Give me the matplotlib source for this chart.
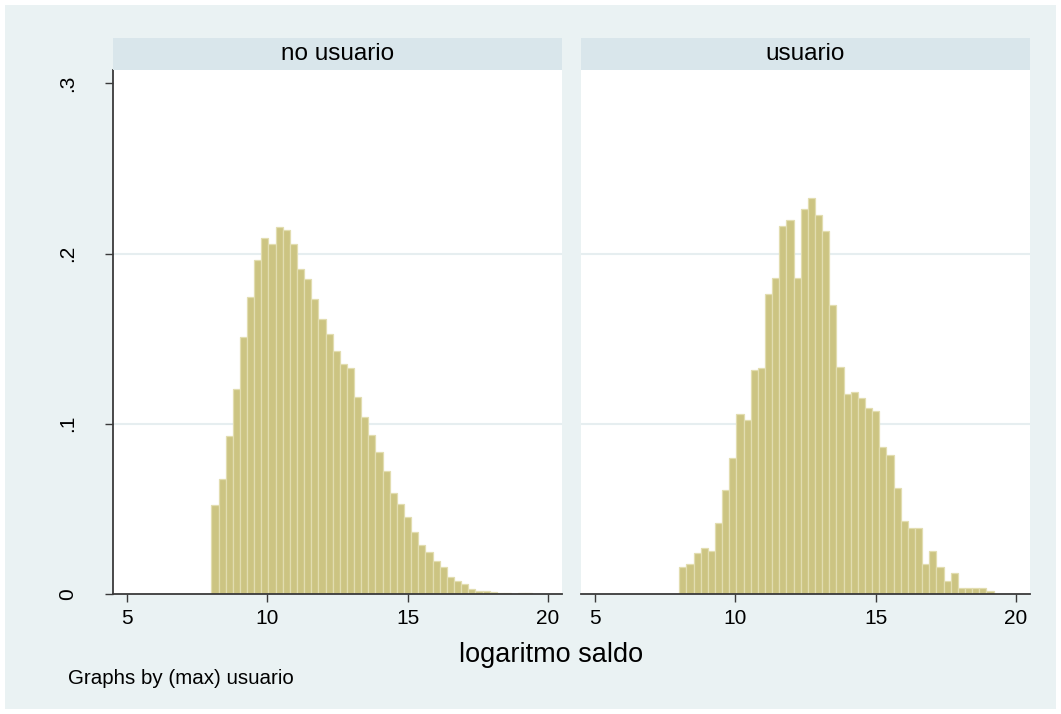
import numpy as np
import matplotlib
matplotlib.use("Agg")
import matplotlib.pyplot as plt
from matplotlib.patches import Rectangle

plt.rcParams['font.family'] = ['Liberation Sans', 'DejaVu Sans']

# densidades (bins comunes desde 8.0)
bin_inicio = 8.0
bin_ancho = 0.2546

no_usuario = [0.052, 0.0675, 0.0927, 0.1204, 0.151, 0.1745, 0.196, 0.2092, 0.2053,
              0.2157, 0.2137, 0.2053, 0.1908, 0.1853, 0.173, 0.1618, 0.153, 0.1425,
              0.135, 0.1327, 0.116, 0.1039, 0.0935, 0.0837, 0.0721, 0.0592, 0.0531,
              0.0451, 0.0365, 0.0288, 0.0249, 0.0196, 0.0159, 0.0102, 0.0076, 0.0059,
              0.0029, 0.0019, 0.0015, 0.0009, 0.0008, 0.0004, 0.0002, 0.0004, 0.0004]

usuario = [0.0157, 0.0176, 0.0239, 0.0271, 0.0255, 0.0418, 0.0608, 0.080, 0.1055,
           0.1025, 0.1314, 0.1329, 0.1765, 0.1859, 0.2163, 0.2196, 0.1859, 0.2261,
           0.2324, 0.2229, 0.2131, 0.170, 0.1331, 0.1172, 0.1186, 0.1153, 0.1094,
           0.1074, 0.0863, 0.0819, 0.0624, 0.0431, 0.0388, 0.0388, 0.0176, 0.0255,
           0.0161, 0.0078, 0.0125, 0.0033, 0.0033, 0.0033, 0.0033, 0.0015]

paneles = ['no usuario', 'usuario']
xticks = [5, 10, 15, 20]
yticks = [0, 0.1, 0.2, 0.3]
ytick_labels = ['0', '.1', '.2', '.3']

W, H = 1061, 714
fondo = '#EAF2F3'
franja = '#D9E6EB'
barra = '#CCC482'
borde = '#E2DDB0'
eje = '#3A3A3A'

fig = plt.figure(figsize=(W / 100, H / 100), dpi=100, facecolor='white')
fig.patches.append(Rectangle((5 / W, 5 / H), (W - 10) / W, (H - 10) / H,
                             transform=fig.transFigure, facecolor=fondo,
                             edgecolor='none', zorder=-10))


def px(x0, y0, x1, y1):
    return [x0 / W, 1 - y1 / H, (x1 - x0) / W, (y1 - y0) / H]


cajas = [(113.3, 561.7), (581, 1030)]
datos = [no_usuario, usuario]

for i, (nombre, dens, (xa, xb)) in enumerate(zip(paneles, datos, cajas)):
    ax = fig.add_axes(px(xa, 70, xb, 594))
    ax.set_facecolor('white')
    edges = bin_inicio + bin_ancho * np.arange(len(dens))
    ax.bar(edges, dens, width=bin_ancho, align='edge', color=barra,
           edgecolor=borde, linewidth=0.9, zorder=2)
    ax.set_xlim(4.5, 20.5)
    ax.set_ylim(0, 0.3078)
    for g in [0.1, 0.2]:
        ax.axhline(g, color='#E6EEF0', lw=1.5, zorder=1)
    ax.set_xticks(xticks)
    ax.set_xticklabels([str(t) for t in xticks])
    ax.tick_params(axis='x', length=6, width=1, color=eje, labelsize=15, pad=5)
    for s in ['top', 'right']:
        ax.spines[s].set_visible(False)
    ax.spines['bottom'].set_color(eje)
    ax.spines['bottom'].set_linewidth(1.3)
    if i == 0:
        ax.set_yticks(yticks)
        ax.set_yticklabels(ytick_labels, rotation=90, va='center')
        ax.tick_params(axis='y', length=6, width=1, color=eje, labelsize=15, pad=20)
        ax.spines['left'].set_color(eje)
        ax.spines['left'].set_linewidth(1.3)
    else:
        ax.set_yticks([])
        ax.spines['left'].set_visible(False)

    tira = fig.add_axes(px(xa, 38, xb, 70))
    tira.set_facecolor(franja)
    tira.set_xticks([])
    tira.set_yticks([])
    for s in tira.spines.values():
        s.set_visible(False)
    tira.text(0.5, 0.5, nombre, ha='center', va='center', fontsize=17.5,
              transform=tira.transAxes)

fig.text(551 / W, 1 - 655 / H, 'logaritmo saldo', ha='center', va='center', fontsize=19.5)
fig.text(68 / W, 1 - 679 / H, 'Graphs by (max) usuario', ha='left', va='center', fontsize=14.8)

fig.savefig('out.png', dpi=100, facecolor='white')
